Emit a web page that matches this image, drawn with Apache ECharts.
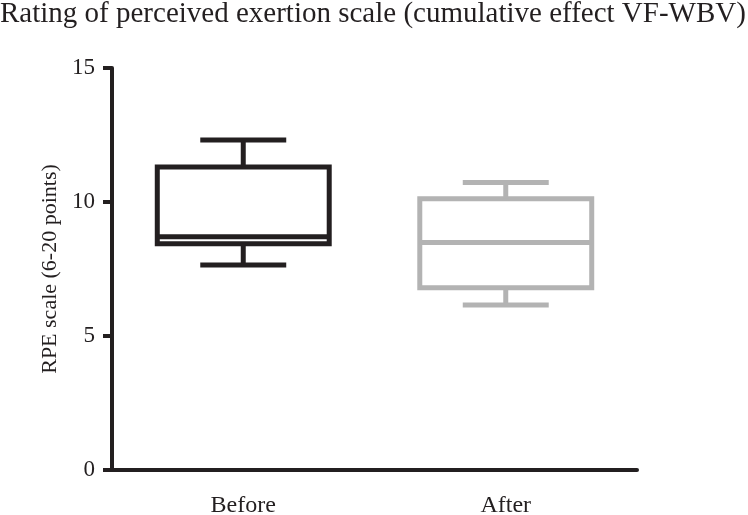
<!DOCTYPE html>
<html>
<head>
<meta charset="utf-8">
<script src="https://cdn.jsdelivr.net/npm/echarts@6/dist/echarts.min.js"></script>
<style>
    html, body { margin: 0; padding: 0; background: #fff; }
    #main { width: 748px; height: 515px; }
</style>
</head>
<body>
<div id="main"></div>
<script>
    // box plot values
    var categories = ['Before', 'After'];
    var lowVals = [7.65, 6.16];
    var q1Vals = [8.44, 6.80];
    var medianVals = [8.70, 8.49];
    var q3Vals = [11.31, 10.12];
    var highVals = [12.31, 10.73];
    var yTicks = [0, 5, 10, 15];

    var boxColors = ['#231f20', '#b3b3b3'];
    var serif = "'Liberation Serif', 'DejaVu Serif', serif";

    var chart = echarts.init(document.getElementById('main'));

    var boxData = categories.map(function (c, i) {
        return [i, lowVals[i], q1Vals[i], medianVals[i], q3Vals[i], highVals[i]];
    });

    function renderBox(params, api) {
        var i = api.value(0);
        var low = api.coord([i, api.value(1)]);
        var q1 = api.coord([i, api.value(2)]);
        var med = api.coord([i, api.value(3)]);
        var q3 = api.coord([i, api.value(4)]);
        var high = api.coord([i, api.value(5)]);
        var bw = api.size([1, 0])[0] * 0.655;
        var cx = low[0];
        var half = bw / 2, capHalf = bw / 4;
        var style = {stroke: boxColors[params.dataIndex], lineWidth: 5, fill: null};
        var line = function (x1, y1, x2, y2) {
            return {type: 'line', shape: {x1: x1, y1: y1, x2: x2, y2: y2}, style: style};
        };
        return {
            type: 'group',
            children: [
                {type: 'rect', shape: {x: cx - half, y: q3[1], width: bw, height: q1[1] - q3[1]}, style: style},
                line(cx - half, med[1], cx + half, med[1]),
                line(cx, q3[1], cx, high[1]),
                line(cx, q1[1], cx, low[1]),
                line(cx - capHalf, high[1], cx + capHalf, high[1]),
                line(cx - capHalf, low[1], cx + capHalf, low[1])
            ]
        };
    }

    var option = {
        animation: false,
        title: {
            text: 'Rating of perceived exertion scale (cumulative effect VF-WBV)',
            left: 0,
            top: 0,
            padding: 0,
            textStyle: {fontFamily: serif, fontSize: 29, fontWeight: 'normal', color: '#231f20'}
        },
        grid: {left: 112, right: 111, top: 68, bottom: 45, outerBoundsMode: 'none', containLabel: false},
        xAxis: {
            type: 'category',
            data: categories,
            axisLine: {lineStyle: {color: '#231f20', width: 4}},
            axisTick: {alignWithLabel: true, length: 10, lineStyle: {color: '#231f20', width: 4}},
            axisLabel: {margin: 24, fontFamily: serif, fontSize: 24, color: '#231f20'}
        },
        yAxis: {
            type: 'value',
            min: yTicks[0],
            max: yTicks[yTicks.length - 1],
            interval: 5,
            name: 'RPE scale (6-20 points)',
            nameLocation: 'middle',
            nameGap: 50,
            nameTextStyle: {fontFamily: serif, fontSize: 22, color: '#231f20'},
            splitLine: {show: false},
            axisLine: {show: true, lineStyle: {color: '#231f20', width: 4}},
            axisTick: {show: true, length: 9, lineStyle: {color: '#231f20', width: 4}},
            axisLabel: {margin: 17, fontFamily: serif, fontSize: 23, color: '#231f20'}
        },
        series: [{
            type: 'custom',
            renderItem: renderBox,
            encode: {x: 0, y: [1, 2, 3, 4, 5]},
            data: boxData
        }]
    };
    chart.setOption(option);
</script>
</body>
</html>
